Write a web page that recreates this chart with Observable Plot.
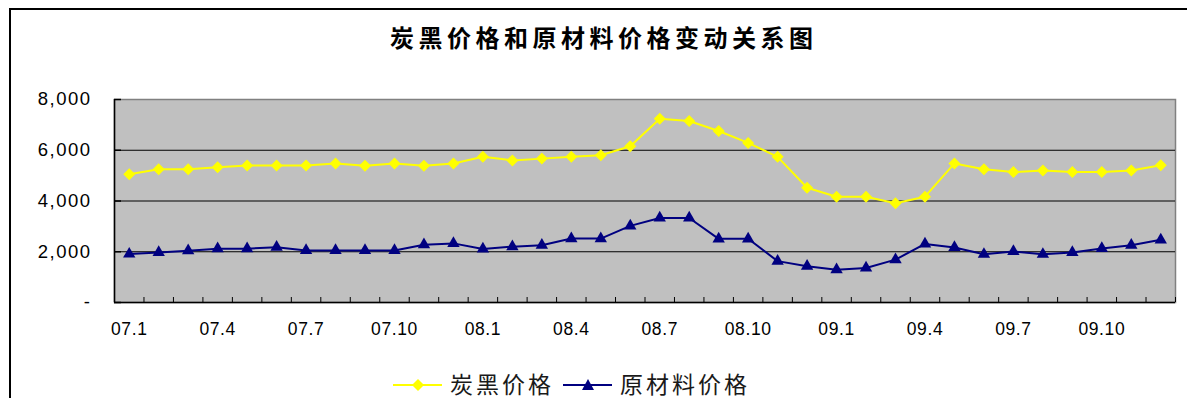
<!DOCTYPE html>
<html>
<head>
<meta charset="utf-8">
<script src="https://cdn.jsdelivr.net/npm/d3@7"></script>
<script src="https://cdn.jsdelivr.net/npm/@observablehq/plot@0.6"></script>
<style>
  body { margin: 0; background: #fff; }
  #wrap { position: relative; width: 1187px; height: 398px; overflow: hidden; background: #fff; }
  #wrap svg.chart { position: absolute; left: 0; top: 0; }
  #title { position: absolute; left: 390px; top: 25px; font-family: "Noto Sans CJK SC", sans-serif; font-weight: bold;
           font-size: 24px; line-height: 24px; letter-spacing: 4.5px; white-space: nowrap; color: #000; }
  .border { position: absolute; background: #000; }
  .leg { position: absolute; font-family: "Noto Sans CJK SC", sans-serif; font-size: 23px; line-height: 18px;
         letter-spacing: 3px; white-space: nowrap; color: #1a1a1a; }
  .sw { position: absolute; }
  g[aria-label="y-axis tick label"] text { letter-spacing: 1.5px; }
  g[aria-label="x-axis tick label"] text { letter-spacing: 0.6px; }
</style>
</head>
<body>
<div id="wrap">
  <div class="border" style="left:9px;top:8px;width:2px;height:390px;"></div>
  <div class="border" style="left:9px;top:8px;width:1178px;height:2px;"></div>
  <div id="title"></div>
</div>
<script>
// ---- data ----
const titleText = "炭黑价格和原材料价格变动关系图";
const seriesNames = ["炭黑价格", "原材料价格"];
const months = ["07.1","07.2","07.3","07.4","07.5","07.6","07.7","07.8","07.9","07.10","07.11","07.12",
                "08.1","08.2","08.3","08.4","08.5","08.6","08.7","08.8","08.9","08.10","08.11","08.12",
                "09.1","09.2","09.3","09.4","09.5","09.6","09.7","09.8","09.9","09.10","09.11","09.12"];
const carbonBlack = [5050,5250,5250,5330,5400,5400,5400,5480,5390,5480,5390,5480,
                     5740,5600,5670,5740,5800,6160,7240,7150,6760,6290,5740,4520,
                     4170,4170,3910,4170,5480,5250,5140,5200,5140,5140,5200,5410];
const rawMaterial = [1910,1970,2040,2120,2120,2180,2050,2050,2050,2050,2280,2330,
                     2110,2200,2260,2520,2520,3020,3330,3330,2510,2510,1630,1430,
                     1290,1360,1690,2310,2170,1900,2010,1900,1970,2130,2260,2470];
const xTickLabels = ["07.1","07.4","07.7","07.10","08.1","08.4","08.7","08.10","09.1","09.4","09.7","09.10"];
const yTicks = [0, 2000, 4000, 6000, 8000];
const yTickLabels = ["-", "2,000", "4,000", "6,000", "8,000"];
const colors = ["#FFFF00", "#000080"];

// ---- layout ----
const W = 1187, H = 340, mT = 99, mB = 38, mL = 114, mR = 12;
const plotW = W - mL - mR, plotH = H - mT - mB;

const n = months.length;
const rows = months.map((m, i) => ({i, m, cb: carbonBlack[i], rm: rawMaterial[i]}));
const xc = d => d.i + 0.5;
const yLab = new Map(yTicks.map((v, i) => [v, yTickLabels[i]]));
const xTickPos = xTickLabels.map(l => months.indexOf(l) + 0.5);

const chart = Plot.plot({
  width: W, height: H,
  marginTop: mT, marginBottom: mB, marginLeft: mL, marginRight: mR,
  className: "chart",
  x: {domain: [0, n], axis: null},
  y: {domain: [0, 8000], axis: null},
  style: {fontFamily: "'Liberation Sans', Arial, sans-serif", color: "#000", background: "transparent", overflow: "visible"},
  marks: [
    Plot.frame({fill: "#C0C0C0", stroke: "#808080", strokeWidth: 1.5}),
    Plot.ruleY(yTicks.filter(v => v > 0 && v < 8000), {stroke: "#000", strokeWidth: 1}),
    Plot.ruleX([0], {stroke: "#000", strokeWidth: 1.5}),
    Plot.ruleY([0], {stroke: "#000", strokeWidth: 1.5}),
    Plot.tickX(d3.range(n + 1), {x: d => d, stroke: "#000", strokeWidth: 1, insetTop: plotH - 5}),
    Plot.tickY(yTicks, {y: d => d, stroke: "#000", strokeWidth: 1.5, insetRight: plotW - 7}),
    Plot.axisX({ticks: xTickPos, tickFormat: d => months[Math.floor(d)], tickSize: 0, tickPadding: 20,
                fontSize: 17.5, fill: "#000", label: null}),
    Plot.axisY({ticks: yTicks, tickFormat: d => yLab.get(d), tickSize: 0, tickPadding: 23,
                fontSize: 18.5, fill: "#000", label: null}),
    Plot.line(rows, {x: xc, y: "rm", stroke: colors[1], strokeWidth: 2}),
    Plot.dot(rows, {x: xc, y: "rm", symbol: "triangle", r: 4.6, fill: colors[1], stroke: "none"}),
    Plot.line(rows, {x: xc, y: "cb", stroke: colors[0], strokeWidth: 2}),
    Plot.dot(rows, {x: xc, y: "cb", symbol: "diamond2", r: 5.4, fill: colors[0], stroke: "none"})
  ]
});

const wrap = document.getElementById("wrap");
wrap.insertBefore(chart, document.getElementById("title"));
document.getElementById("title").textContent = titleText;

// ---- legend ----
function swatch(left, color, shape) {
  const s = d3.create("svg").attr("class", "sw").attr("width", 50).attr("height", 16)
    .style("left", left + "px").style("top", "377px");
  s.append("line").attr("x1", 0).attr("x2", 49).attr("y1", 8).attr("y2", 8)
    .attr("stroke", color).attr("stroke-width", 2);
  if (shape === "diamond") {
    s.append("path").attr("d", "M25,2 L31,8 L25,14 L19,8 Z").attr("fill", color);
  } else {
    s.append("path").attr("d", "M25,2 L31,13 L19,13 Z").attr("fill", color);
  }
  wrap.appendChild(s.node());
}
function legText(left, txt) {
  const d = document.createElement("div");
  d.className = "leg"; d.style.left = left + "px"; d.style.top = "374px"; d.textContent = txt;
  wrap.appendChild(d);
}
swatch(393, colors[0], "diamond");
legText(450, seriesNames[0]);
swatch(563, colors[1], "triangle");
legText(620, seriesNames[1]);
</script>
</body>
</html>
